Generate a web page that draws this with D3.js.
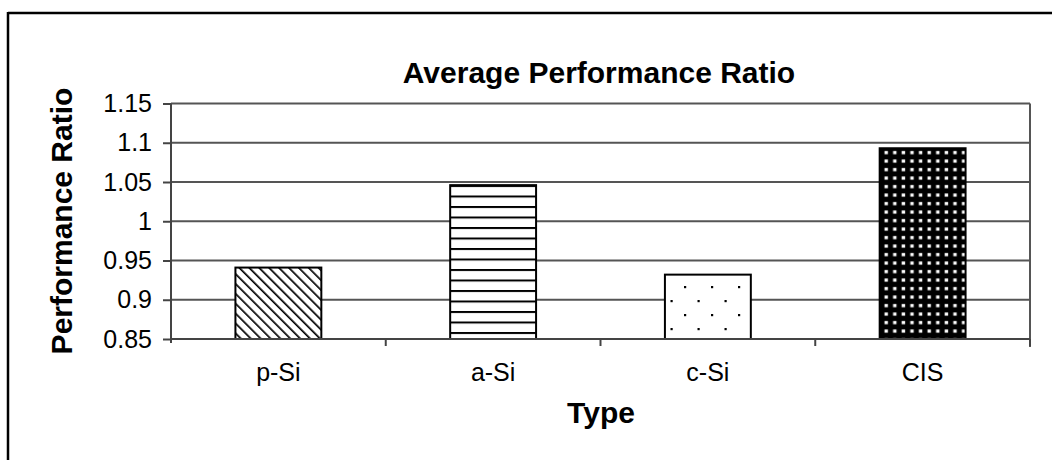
<!DOCTYPE html>
<html>
<head>
<meta charset="utf-8">
<script src="https://cdn.jsdelivr.net/npm/d3@7"></script>
<style>
html,body{margin:0;padding:0;background:#fff;}
svg{display:block;}
text{font-family:"Liberation Sans",Arial,sans-serif;fill:#000;}
</style>
</head>
<body>
<svg id="chart" width="1052" height="460"></svg>
<script>
const categories = ["p-Si", "a-Si", "c-Si", "CIS"];
const values = [0.941, 1.046, 0.932, 1.093];
const patterns = ["diag", "hlines", "sparseDots", "denseDots"];
const yTicks = [0.85, 0.9, 0.95, 1, 1.05, 1.1, 1.15];
const titleText = "Average Performance Ratio";
const yTitle = "Performance Ratio";
const xTitle = "Type";

const svg = d3.select("#chart");
const W = 1052, H = 460;
const m = {left: 171, right: 1030, top: 103.5, bottom: 339};

const x = d3.scaleBand().domain(categories).range([m.left, m.right]).padding(0);
const y = d3.scaleLinear().domain([0.85, 1.15]).range([m.bottom, m.top]);

// patterns
const defs = svg.append("defs");
const pDiag = defs.append("pattern").attr("id","diag").attr("patternUnits","userSpaceOnUse")
  .attr("width",7).attr("height",7).attr("patternTransform","rotate(-45)");
pDiag.append("rect").attr("width",7).attr("height",7).attr("fill","#fff");
pDiag.append("line").attr("x1",0).attr("y1",0).attr("x2",0).attr("y2",7).attr("stroke","#000").attr("stroke-width",3.4);

const pH = defs.append("pattern").attr("id","hlines").attr("patternUnits","userSpaceOnUse")
  .attr("width",10).attr("height",10.5).attr("y", 185);
pH.append("rect").attr("width",10).attr("height",10.5).attr("fill","#fff");
pH.append("rect").attr("y",0).attr("width",10).attr("height",2).attr("fill","#000");

const pS = defs.append("pattern").attr("id","sparseDots").attr("patternUnits","userSpaceOnUse")
  .attr("width",27).attr("height",28).attr("x",667).attr("y",280);
pS.append("rect").attr("width",27).attr("height",28).attr("fill","#fff");
pS.append("rect").attr("x",17).attr("y",6).attr("width",2.2).attr("height",2.2).attr("fill","#000");
pS.append("rect").attr("x",3.5).attr("y",20).attr("width",2.2).attr("height",2.2).attr("fill","#000");

const pD = defs.append("pattern").attr("id","denseDots").attr("patternUnits","userSpaceOnUse")
  .attr("width",8.6).attr("height",8.5).attr("x",882).attr("y",148);
pD.append("rect").attr("width",8.6).attr("height",8.5).attr("fill","#000");
pD.append("rect").attr("x",2.5).attr("y",3).attr("width",3.4).attr("height",3.2).attr("fill","#fff");

// outer frame
svg.append("line").attr("x1",8).attr("x2",W).attr("y1",13).attr("y2",13).attr("stroke","#000").attr("stroke-width",2.5);
svg.append("line").attr("x1",8).attr("x2",8).attr("y1",12).attr("y2",H).attr("stroke","#000").attr("stroke-width",2.5);

// gridlines
svg.append("g").selectAll("line").data(yTicks).join("line")
  .attr("x1",m.left).attr("x2",m.right)
  .attr("y1",d=>y(d)).attr("y2",d=>y(d))
  .attr("stroke","#555").attr("stroke-width",2);
// right border of plot
svg.append("line").attr("x1",m.right).attr("x2",m.right).attr("y1",m.top).attr("y2",m.bottom+8)
  .attr("stroke","#555").attr("stroke-width",2);

// bars
const bw = x.bandwidth()*0.4;
svg.append("g").selectAll("rect").data(categories).join("rect")
  .attr("x",d=>x(d)+x.bandwidth()*0.3)
  .attr("width",bw)
  .attr("y",(d,i)=>y(values[i]))
  .attr("height",(d,i)=>y(0.85)-y(values[i]))
  .attr("fill",(d,i)=>`url(#${patterns[i]})`)
  .attr("stroke","#000").attr("stroke-width",2);

// y axis
const yAxis = d3.axisLeft(y).tickValues(yTicks).tickFormat(d3.format("")).tickSize(8).tickSizeOuter(0).tickPadding(11);
const gy = svg.append("g").attr("transform",`translate(${m.left},0)`).call(yAxis);
gy.select(".domain").attr("stroke","#444").attr("stroke-width",2).attr("d",`M0,${m.top}V${m.bottom+4}`);
gy.selectAll(".tick line").attr("stroke","#444").attr("stroke-width",2);
gy.selectAll("text").style("font-size","25px").style("font-family","Liberation Sans, Arial, sans-serif").attr("fill","#000");

// x axis
const xAxis = d3.axisBottom(x).tickSize(0).tickPadding(24);
const gx = svg.append("g").attr("transform",`translate(0,${m.bottom})`).call(xAxis);
gx.select(".domain").attr("stroke","#444").attr("stroke-width",2).attr("d",`M${m.left},0H${m.right}`);
gx.selectAll("text").style("font-size","25px").style("font-family","Liberation Sans, Arial, sans-serif").attr("fill","#000");
// category separator ticks
svg.append("g").selectAll("line").data(categories.slice(1).concat(["__end"])).join("line")
  .attr("x1",d=> d==="__end" ? m.right : x(d)).attr("x2",d=> d==="__end" ? m.right : x(d))
  .attr("y1",m.bottom).attr("y2",m.bottom+7)
  .attr("stroke","#444").attr("stroke-width",2);

// titles
svg.append("text").attr("x",599).attr("y",83).attr("text-anchor","middle")
  .style("font-size","30px").style("font-weight","bold").text(titleText);
svg.append("text").attr("transform",`translate(72,221) rotate(-90)`).attr("text-anchor","middle")
  .style("font-size","30px").style("font-weight","bold").text(yTitle);
svg.append("text").attr("x",601).attr("y",423).attr("text-anchor","middle")
  .style("font-size","30px").style("font-weight","bold").text(xTitle);
</script>
</body>
</html>
